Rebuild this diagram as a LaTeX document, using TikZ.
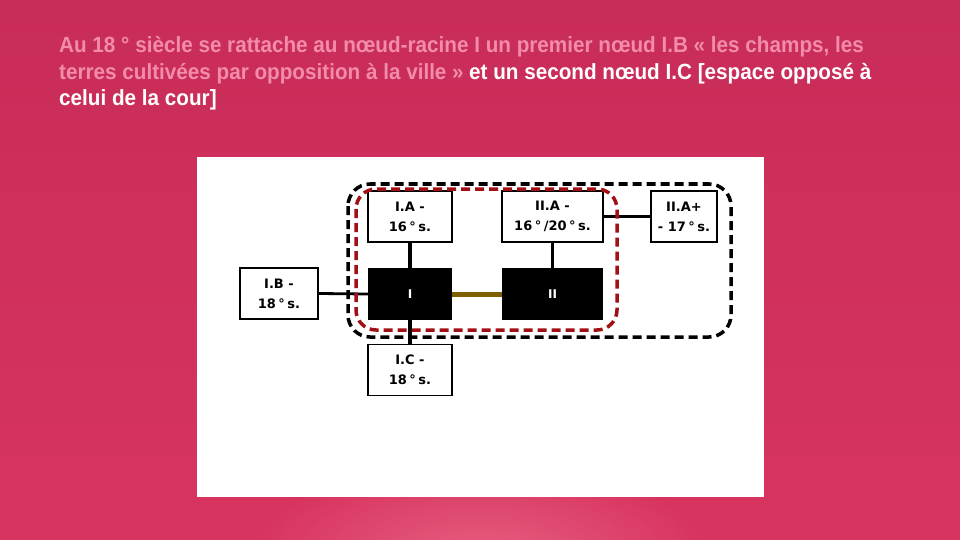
\documentclass[tikz,border=0pt]{standalone}
\usepackage{fontspec}
\setmainfont{Liberation Sans}
\newfontfamily\hdrfont[FakeStretch=0.94]{Liberation Sans Bold}
\newfontfamily\boxfont{DejaVu Sans}
\definecolor{bgpink}{RGB}{200,44,88}
\definecolor{bglow}{RGB}{216,52,96}
\definecolor{glow}{RGB}{234,104,134}
\definecolor{txtpink}{RGB}{243,140,170}
\definecolor{darkred}{RGB}{160,16,20}
\definecolor{brown}{RGB}{127,96,0}
\usetikzlibrary{shadings}
\newcommand{\dg}{\hspace{2.5pt}°\hspace{2.5pt}}
\begin{document}
\begin{tikzpicture}[x=1pt,y=-1pt,
  lbox/.style={draw=black,line width=1.3pt,fill=white,minimum width=#1,minimum height=51pt,inner sep=0pt,align=center,font=\boxfont\bfseries\fontsize{13}{20}\selectfont},
  blk/.style={fill=black,minimum width=#1,minimum height=52pt,inner sep=0pt,text=white,font=\boxfont\bfseries\fontsize{12}{13}\selectfont},
  link/.style={line width=3.5pt,black},
  hdr/.style={anchor=base west,inner sep=0pt,font=\hdrfont\fontsize{22}{26}\selectfont}]
\useasboundingbox (0,0) rectangle (960,540);
% background
\shade[top color=bgpink,bottom color=bglow] (0,0) rectangle (960,540);
\begin{scope}
\clip (0,0) rectangle (960,540);
\shade[inner color=glow,outer color=bglow,opacity=0.85] (480,560) ellipse (230 and 100);
\end{scope}
% header
\node[hdr,text=txtpink] (h1) at (59,53) {Au 18 ° siècle se rattache au nœud-racine I un premier nœud I.B « les champs, les};
\node[hdr,text=txtpink] (h2a) at (59,79.5) {terres cultivées par opposition à la ville »};
\node[hdr,text=white,anchor=base west] (h2b) at ([xshift=5pt]h2a.base east) {et un second nœud I.C [espace opposé à};
\node[hdr,text=white] (h3) at (59,106) {celui de la cour]};
% white panel
\fill[white] (197,157) rectangle (764,497);
% boxes
\node[lbox=78pt] (IB) at (279,293.5) {I.B -\\18\dg s.};
\node[lbox=84pt] (IA) at (410,216.5) {I.A -\\16\dg s.};
\node[blk=84pt] (I) at (410,294) {I};
\node[lbox=84pt] (IC) at (410,370) {I.C -\\18\dg s.};
\node[lbox=101pt] (IIA) at (552.5,216.5) {II.A -\\16\dg /20\dg s.};
\node[lbox=66pt] (IIAp) at (684,216.5) {II.A+\\- 17\dg s.};
\node[blk=101pt] (II) at (552.5,294) {II};
% connectors
\draw[link,line width=2.8pt] (IB.east) -- (I.west);
\draw[link] (IA.south) -- (I.north);
\draw[link] (I.south) -- (IC.north);
\draw[line width=5pt,brown] (I.east) -- (II.west);
\draw[link] (IIA.south) -- (II.north);
\draw[link] (IIA.east) -- (IIAp.west);
% dashed groups
\coordinate (bTL) at (348,184);
\coordinate (bBR) at (731,337);
\draw[black,line width=3.5pt,dash pattern=on 9pt off 5pt,rounded corners=22pt] (bTL) rectangle (bBR);
\coordinate (rTL) at (356,189);
\coordinate (rBR) at (617,330);
\draw[darkred,line width=3.5pt,dash pattern=on 9pt off 5pt,rounded corners=20pt] (rTL) rectangle (rBR);
\end{tikzpicture}
\end{document}
